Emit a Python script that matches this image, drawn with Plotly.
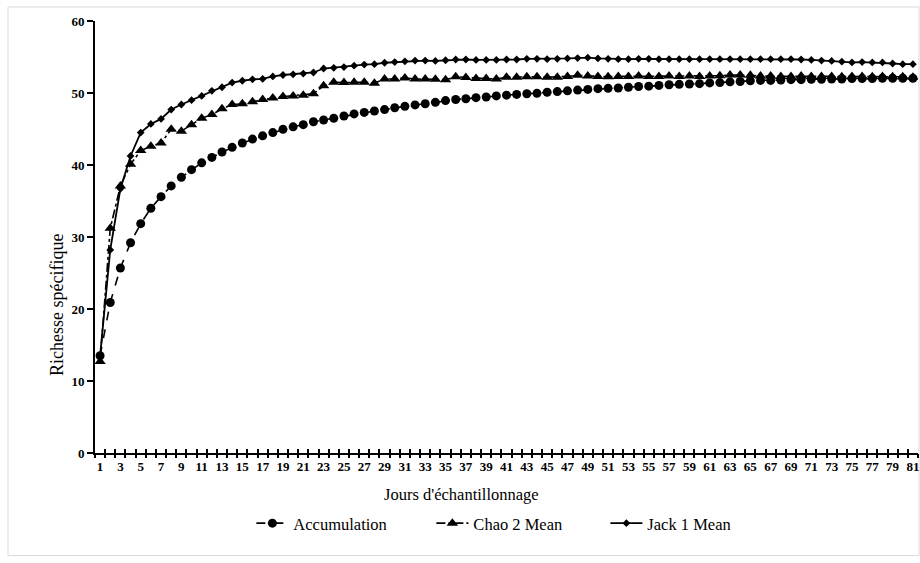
import plotly.graph_objects as go

# Species accumulation data by sampling day
days = list(range(1, 82))

accumulation = [
    13.5, 20.9, 25.7, 29.2, 31.85, 34.0, 35.6, 37.1, 38.3, 39.35,
    40.3, 41.05, 41.8, 42.45, 43.05, 43.6, 44.05, 44.5, 44.95, 45.3,
    45.6, 46.0, 46.25, 46.5, 46.8, 47.1, 47.3, 47.5, 47.7, 47.95,
    48.15, 48.35, 48.5, 48.7, 48.95, 49.1, 49.2, 49.35, 49.45, 49.6,
    49.7, 49.8, 49.9, 49.95, 50.1, 50.2, 50.3, 50.4, 50.5, 50.6,
    50.65, 50.7, 50.8, 50.9, 50.95, 51.05, 51.15, 51.2, 51.25, 51.3,
    51.4, 51.45, 51.55, 51.6, 51.7, 51.75, 51.75, 51.8, 51.85, 51.85,
    51.9, 51.9, 51.95, 51.95, 52.0, 52.0, 52.0, 52.05, 52.05, 52.05,
    52.05,
]

chao2 = [
    12.7, 31.2, 37.1, 40.1, 42.0, 42.6, 43.05, 44.95, 44.7, 45.6,
    46.5, 47.0, 47.8, 48.4, 48.5, 48.8, 49.1, 49.3, 49.5, 49.6,
    49.7, 49.9, 51.0, 51.5, 51.45, 51.5, 51.5, 51.35, 51.95, 51.95,
    52.1, 51.95, 51.95, 51.9, 51.85, 52.25, 52.15, 52.0, 52.0, 51.95,
    52.2, 52.2, 52.25, 52.25, 52.2, 52.2, 52.3, 52.45, 52.35, 52.3,
    52.25, 52.3, 52.3, 52.35, 52.3, 52.3, 52.35, 52.3, 52.35, 52.3,
    52.35, 52.4, 52.5, 52.5, 52.45, 52.35, 52.35, 52.3, 52.3, 52.35,
    52.3, 52.3, 52.3, 52.25, 52.3, 52.3, 52.25, 52.3, 52.25, 52.25,
    52.2,
]

jack1 = [
    13.5, 28.2, 36.7, 41.25, 44.5, 45.7, 46.4, 47.7, 48.4, 49.0,
    49.6, 50.3, 50.8, 51.45, 51.7, 51.9, 51.95, 52.3, 52.5, 52.6,
    52.7, 52.85, 53.4, 53.5, 53.6, 53.8, 53.95, 54.0, 54.2, 54.3,
    54.4, 54.5, 54.5, 54.45, 54.55, 54.65, 54.65, 54.6, 54.6, 54.6,
    54.65, 54.65, 54.75, 54.75, 54.7, 54.75, 54.8, 54.85, 54.9, 54.8,
    54.75, 54.7, 54.7, 54.75, 54.75, 54.7, 54.7, 54.7, 54.7, 54.7,
    54.7, 54.7, 54.7, 54.7, 54.7, 54.7, 54.7, 54.7, 54.7, 54.65,
    54.6, 54.5, 54.45, 54.35, 54.25, 54.3, 54.25, 54.25, 54.1, 54.0,
    54.0,
]

odd_days = [d for d in days if d % 2 == 1]
boundaries = [d - 0.5 for d in days] + [days[-1] + 0.5]

SERIF = "Liberation Serif, Times New Roman, serif"
BLACK = "#000000"

fig = go.Figure()

fig.add_trace(go.Scatter(
    x=days, y=accumulation, name="Accumulation", mode="lines+markers",
    line=dict(color=BLACK, width=1.6, dash="dash"),
    marker=dict(symbol="circle", size=9, color=BLACK),
    legendwidth=133,
))
fig.add_trace(go.Scatter(
    x=days, y=chao2, name="Chao 2 Mean", mode="lines+markers",
    line=dict(color=BLACK, width=1.6, dash="dashdot"),
    marker=dict(symbol="triangle-up", size=10, color=BLACK),
    legendwidth=127,
))
fig.add_trace(go.Scatter(
    x=days, y=jack1, name="Jack 1 Mean", mode="lines+markers",
    line=dict(color=BLACK, width=1.8),
    marker=dict(symbol="diamond", size=6, color=BLACK),
))

x_range = [0.5, days[-1] + 0.5]
tick_font = dict(family=SERIF, size=13, color=BLACK, weight="bold")

fig.update_layout(
    width=920, height=563,
    margin=dict(l=95, r=2, t=21, b=110),
    paper_bgcolor="white", plot_bgcolor="white",
    font=dict(family=SERIF, color=BLACK),
    showlegend=True,
    legend=dict(
        orientation="h", x=0.19, y=-0.163, xanchor="left", yanchor="middle",
        font=dict(family=SERIF, size=16.5, color=BLACK),
        itemwidth=32, bgcolor="rgba(0,0,0,0)",
    ),
    # labelled axis: odd days centred under each category
    xaxis=dict(
        range=x_range, tickmode="array", tickvals=odd_days,
        ticktext=[str(d) for d in odd_days], ticks="",
        tickfont=tick_font, showgrid=False, zeroline=False,
        showline=True, linecolor=BLACK, linewidth=2,
    ),
    # cross tick marks at category boundaries (outside half)
    xaxis2=dict(
        range=x_range, overlaying="x", anchor="y", side="bottom",
        tickmode="array", tickvals=boundaries, ticks="outside",
        ticklen=4, tickwidth=1.5, tickcolor=BLACK,
        showticklabels=False, showgrid=False, zeroline=False, showline=False,
    ),
    # cross tick marks at category boundaries (inside half)
    xaxis3=dict(
        range=x_range, overlaying="x", anchor="y", side="bottom",
        tickmode="array", tickvals=boundaries, ticks="inside",
        ticklen=4, tickwidth=1.5, tickcolor=BLACK,
        showticklabels=False, showgrid=False, zeroline=False, showline=False,
    ),
    yaxis=dict(
        range=[0, 60], tickmode="linear", tick0=0, dtick=10,
        ticks="outside", ticklen=6, tickwidth=1.5, tickcolor=BLACK,
        tickfont=tick_font, showgrid=False, zeroline=False,
        showline=True, linecolor=BLACK, linewidth=2,
    ),
    annotations=[
        dict(text="Richesse spécifique", textangle=-90,
             xref="paper", yref="paper", x=-0.0462, y=0.3426,
             xanchor="center", yanchor="middle", showarrow=False,
             font=dict(family=SERIF, size=18, color=BLACK)),
        dict(text="Jours d'échantillonnage",
             xref="paper", yref="paper", x=0.445, y=-0.095,
             xanchor="center", yanchor="middle", showarrow=False,
             font=dict(family=SERIF, size=16.5, color=BLACK)),
    ],
    shapes=[
        dict(type="rect", xref="paper", yref="paper",
             x0=-0.1057, x1=1.0012, y0=-0.2375, y1=1.0325,
             line=dict(color="#d9d9d9", width=1), fillcolor="rgba(0,0,0,0)",
             layer="below"),
    ],
)

# invisible helpers so the tick-only axes are rendered
fig.add_trace(go.Scatter(x=[x_range[0]], y=[None], xaxis="x2", showlegend=False,
                         hoverinfo="skip", mode="lines"))
fig.add_trace(go.Scatter(x=[x_range[0]], y=[None], xaxis="x3", showlegend=False,
                         hoverinfo="skip", mode="lines"))

fig.write_html("out.html")
